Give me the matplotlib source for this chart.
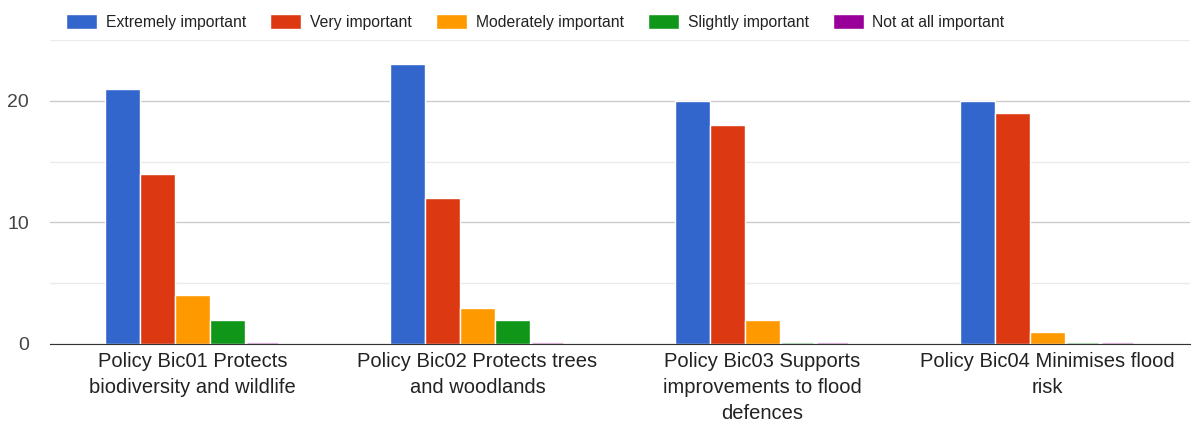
import numpy as np
import matplotlib.pyplot as plt

categories = ["Policy Bic01 Protects\nbiodiversity and wildlife",
              "Policy Bic02 Protects trees\nand woodlands",
              "Policy Bic03 Supports\nimprovements to flood\ndefences",
              "Policy Bic04 Minimises flood\nrisk"]
series_names = ["Extremely important", "Very important", "Moderately important",
                "Slightly important", "Not at all important"]
extremely = [21, 23, 20, 20]
very = [14, 12, 18, 19]
moderately = [4, 3, 2, 1]
slightly = [2, 2, 0, 0]
not_at_all = [0, 0, 0, 0]
yticks = [0, 10, 20]

colors = ["#3366cc", "#dc3912", "#ff9900", "#109618", "#990099"]
series = [extremely, very, moderately, slightly, not_at_all]

plt.rcParams['font.family'] = ['Liberation Sans', 'DejaVu Sans']

fig = plt.figure(figsize=(11.92, 4.26), dpi=100)
ax = fig.add_axes([50/1192, 1 - 344/426, 1140/1192, (344 - 40)/426])

x = np.arange(len(categories))
width = 0.123
for i, (name, vals, c) in enumerate(zip(series_names, series, colors)):
    pos = x + (i - 2) * width
    ax.bar(pos, vals, width, color=c, edgecolor="white", linewidth=1, label=name, zorder=3)
    # faint stub for zero values
    for p, v in zip(pos, vals):
        if v == 0:
            ax.plot([p - width/2 + 0.01, p + width/2 - 0.01], [0.06, 0.06],
                    color=c, alpha=0.25, lw=1, zorder=3)

ax.set_xlim(-0.5, len(categories) - 0.5)
ax.set_ylim(0, 25)
ax.set_yticks(yticks)
ax.set_yticks([5, 15, 25], minor=True)
ax.grid(axis="y", which="major", color="#cccccc", lw=1, zorder=0)
ax.grid(axis="y", which="minor", color="#ebebeb", lw=1, zorder=0)
ax.set_xticks(x)
ax.set_xticklabels(categories, fontsize=14.5, color="#222222", linespacing=1.45)
ax.tick_params(axis="y", labelsize=14, labelcolor="#444444", length=0, pad=15)
ax.tick_params(axis="y", which="minor", length=0)
ax.tick_params(axis="x", length=0, pad=6)
for s in ["top", "right", "left"]:
    ax.spines[s].set_visible(False)
ax.spines["bottom"].set_color("#333333")
ax.spines["bottom"].set_zorder(4)

fig.legend(loc="upper left", bbox_to_anchor=(0.0436, 1.0), ncol=5, frameon=False,
           fontsize=11.3, handlelength=1.97, handleheight=1.08, handletextpad=0.57,
           columnspacing=1.53, labelcolor="#222222")

plt.savefig("out.png", dpi=100)
